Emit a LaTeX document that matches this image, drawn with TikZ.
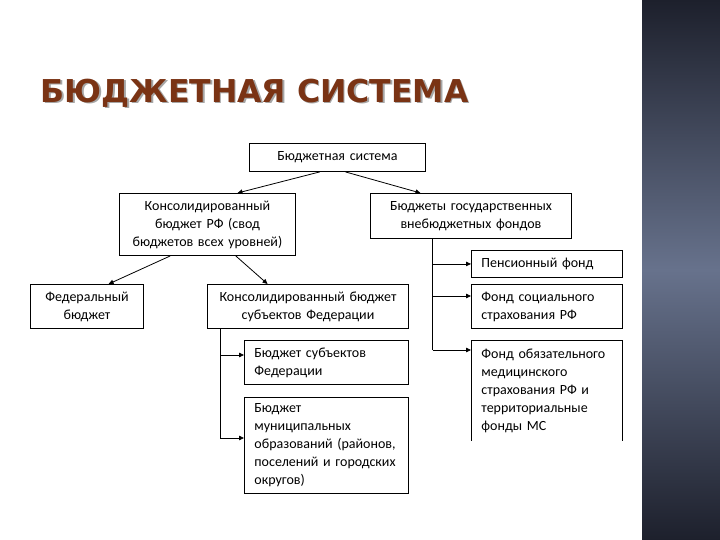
\documentclass[tikz,border=0pt]{standalone}
\usepackage{fontspec}
\setmainfont{Carlito}
\newfontfamily\titlefont{DejaVu Sans}
\usepackage{tikz}
\usetikzlibrary{arrows.meta, calc, positioning}

\definecolor{titlebrown}{HTML}{7A3314}
\definecolor{bardark}{HTML}{1D202C}
\definecolor{barmid}{HTML}{67728C}

\tikzset{
  blk/.style={draw, line width=0.9pt, inner sep=0pt, anchor=north west,
    align=center, font=\fontsize{14}{18}\selectfont},
  lblk/.style={blk, align=left, inner xsep=10pt},
  arr/.style={-{Triangle[length=5pt,width=4.5pt]}, line width=0.8pt},
  ln/.style={line width=0.8pt}
}

\begin{document}
\begin{tikzpicture}[x=1pt, y=-1pt]
\useasboundingbox (0,0) rectangle (720,540);
\fill[white] (0,0) rectangle (720,540);
% side bar
\shade[top color=bardark, bottom color=bardark, middle color=barmid] (642,0) rectangle (720,540);

% title
\node[anchor=west, text=black!35, font=\titlefont\bfseries\fontsize{31.5}{31.5}\selectfont] at (38.5,94.5) {БЮДЖЕТНАЯ СИСТЕМА};
\node[anchor=west, text=titlebrown, font=\titlefont\bfseries\fontsize{31.5}{31.5}\selectfont] (title) at (37,93) {БЮДЖЕТНАЯ СИСТЕМА};

% boxes
\node[blk, text width=176pt, minimum height=28pt] (sys) at (249,143) {Бюджетная система};
\node[blk, text width=176pt, minimum height=62pt] (kons) at (119,193) {Консолидированный\\бюджет РФ (свод\\бюджетов всех уровней)};
\node[blk, text width=201pt, minimum height=45pt] (vbf) at (370,193) {Бюджеты государственных\\внебюджетных фондов};
\node[blk, text width=113pt, minimum height=44pt] (fed) at (30,284) {Федеральный\\бюджет};
\node[blk, text width=201pt, minimum height=44pt] (subj) at (207,284) {Консолидированный бюджет\\субъектов Федерации};
\node[lblk, text width=131pt, minimum height=27pt] (pf) at (471,250) {Пенсионный фонд};
\node[lblk, text width=131pt, minimum height=44pt] (ss) at (471,284) {Фонд социального\\страхования РФ};
\node[lblk, draw=none, text width=131pt, minimum height=100pt] (oms) at (471,340) {Фонд обязательного\\медицинского\\страхования РФ и\\территориальные\\фонды МС};
\draw[line width=0.9pt] (oms.south west) |- (oms.north east) -- (oms.south east);
\node[lblk, text width=144pt, minimum height=44pt] (bs) at (244,340) {Бюджет субъектов\\Федерации};
\node[lblk, text width=144pt, minimum height=96pt] (mun) at (244,397) {Бюджет\\муниципальных\\образований (районов,\\поселений и городских\\округов)};

% arrows between levels
\draw[arr] ($(sys.south west)!0.40!(sys.south east)$) -- ($(kons.north west)!0.67!(kons.north east)$);
\draw[arr] ($(sys.south west)!0.545!(sys.south east)$) -- ($(vbf.north west)!0.25!(vbf.north east)$);
\draw[arr] ($(kons.south west)!0.29!(kons.south east)$) -- ($(fed.north west)!0.69!(fed.north east)$);
\draw[arr] ($(kons.south west)!0.66!(kons.south east)$) -- ($(subj.north west)!0.30!(subj.north east)$);

% funds
\coordinate (vt) at ($(vbf.south west)!0.31!(vbf.south east)$);
\coordinate (ssin) at ($(ss.north west)+(0,12)$);
\coordinate (omsin) at ($(oms.north west)+(0,10)$);
\draw[ln] (vt) -- (vt |- omsin);
\draw[arr] (vt |- pf.west) -- (pf.west);
\draw[arr] (vt |- ssin) -- (ssin);
\draw[arr] (vt |- omsin) -- (omsin);

% subjects
\coordinate (st) at ($(subj.south west)!0.065!(subj.south east)$);
\coordinate (bsin) at ($(bs.north west)+(0,15)$);
\coordinate (munin) at ($(mun.north west)+(0,41)$);
\draw[ln] (st) -- (st |- munin);
\draw[arr] (st |- bsin) -- (bsin);
\draw[arr] (st |- munin) -- (munin);
\end{tikzpicture}
\end{document}
